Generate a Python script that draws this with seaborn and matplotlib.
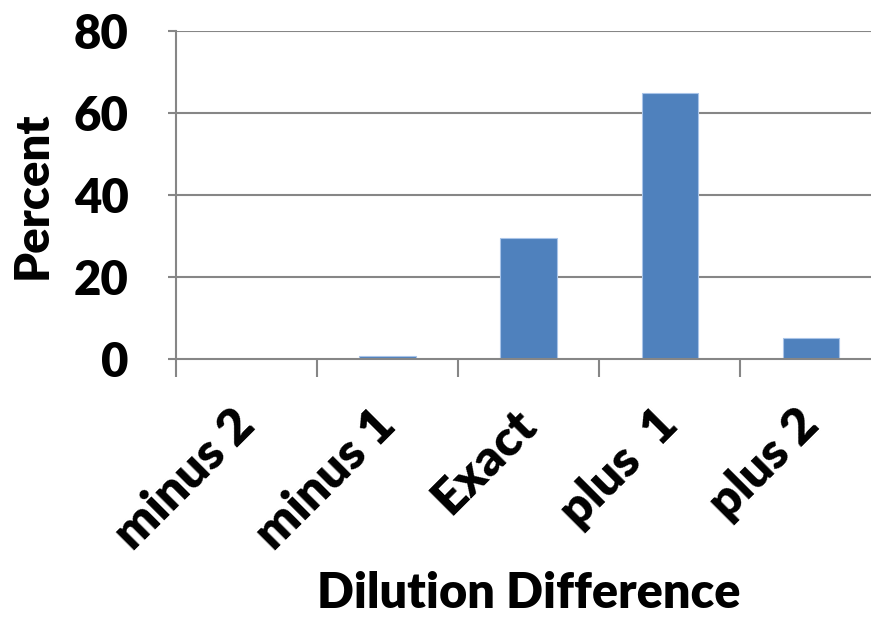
import matplotlib
matplotlib.use("Agg")
import matplotlib.pyplot as plt
import seaborn as sns
import pandas as pd
from matplotlib.ticker import FixedLocator

categories = ["minus 2", "minus 1", "Exact", "plus  1", "plus 2"]
percent = [0.0, 0.6, 29.5, 65.0, 5.1]
y_ticks = [0, 20, 40, 60, 80]

sns.set_theme(style="white")
plt.rcParams["font.family"] = ["Lato", "DejaVu Sans"]
plt.rcParams["text.color"] = "black"
plt.rcParams["axes.labelcolor"] = "black"
plt.rcParams["xtick.labelcolor"] = "black"
plt.rcParams["ytick.labelcolor"] = "black"

df = pd.DataFrame({"Dilution Difference": categories, "Percent": percent})

fig = plt.figure(figsize=(8.71, 6.22), dpi=100)
ax = fig.add_axes([0.202, 0.423, 0.810, 0.527])

grid_color = "#868686"
sns.barplot(data=df, x="Dilution Difference", y="Percent", color="#4F81BD",
            width=0.4, saturation=1, edgecolor="#A9C4E8", linewidth=0.8, ax=ax,
            zorder=3)

ax.set_ylim(0, 80)
ax.set_xlim(-0.5, len(categories) - 0.5)
ax.set_yticks(y_ticks)
for y in y_ticks[1:]:
    ax.axhline(y, color=grid_color, lw=1.5, zorder=1)

for side in ["top", "right"]:
    ax.spines[side].set_visible(False)
for side in ["left", "bottom"]:
    ax.spines[side].set_color(grid_color)
    ax.spines[side].set_linewidth(1.5)
ax.spines["bottom"].set_zorder(4)

# category boundary ticks below the axis
ax.xaxis.set_minor_locator(FixedLocator([i - 0.5 for i in range(len(categories) + 1)]))
ax.tick_params(axis="x", which="minor", direction="out", length=13, width=1.5,
               color=grid_color, bottom=True)
ax.tick_params(axis="x", which="major", length=0, pad=42)
ax.tick_params(axis="y", which="major", direction="out", length=6, width=1.5,
               color=grid_color, left=True, pad=28)

ax.set_xticks(range(len(categories)))
ax.set_xticklabels(categories, rotation=45, ha="right", va="center",
                   rotation_mode="anchor", fontsize=36, fontweight="heavy")
for lbl in ax.get_yticklabels():
    lbl.set_fontsize(34)
    lbl.set_fontweight("heavy")

ax.set_xlabel("Dilution Difference", fontsize=35, fontweight="heavy", labelpad=10)
ax.set_ylabel("Percent", fontsize=34, fontweight="heavy", labelpad=14)

fig.savefig("out.png", dpi=100, facecolor="white")
